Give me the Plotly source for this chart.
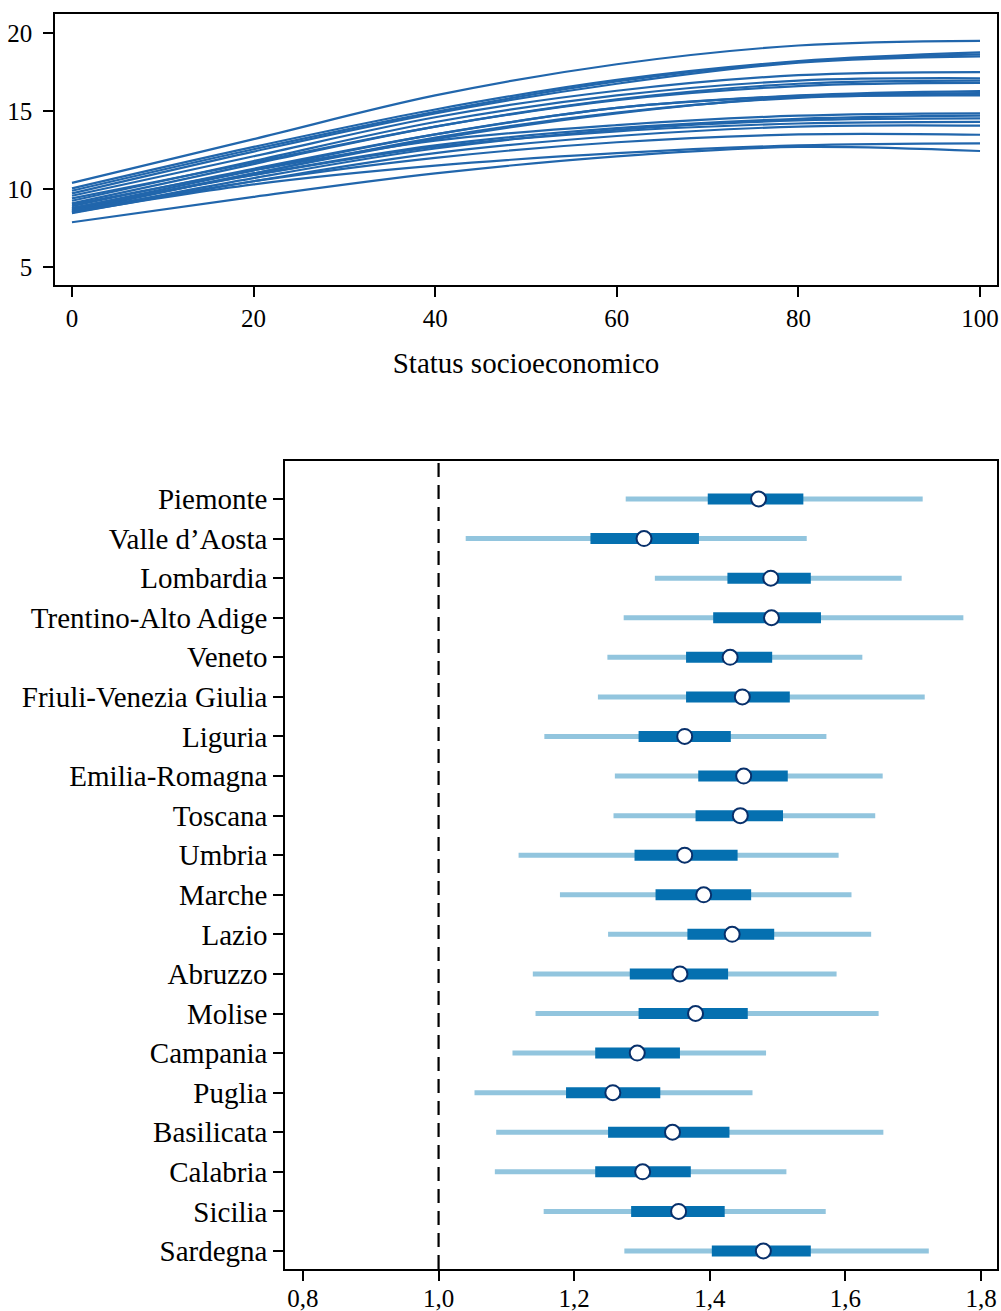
import plotly.graph_objects as go

# ---------- Top panel data: predicted curves (values read at SES = 0,20,...,100) ----------
ses_x = [0, 20, 40, 60, 80, 100]
curves = [
    [10.40, 13.20, 16.00, 18.00, 19.20, 19.50],
    [10.04, 12.70, 15.10, 17.00, 18.20, 18.76],
    [9.89, 12.55, 14.95, 16.90, 18.15, 18.63],
    [9.72, 12.40, 14.85, 16.75, 18.10, 18.50],
    [9.57, 12.10, 14.60, 16.30, 17.30, 17.50],
    [9.25, 11.80, 14.30, 16.00, 16.95, 17.10],
    [9.08, 11.60, 14.00, 15.75, 16.75, 16.95],
    [9.40, 11.70, 14.00, 15.70, 16.60, 16.80],
    [8.76, 11.20, 13.50, 15.20, 16.00, 16.28],
    [8.90, 11.30, 13.50, 15.20, 15.95, 16.15],
    [8.65, 11.00, 13.30, 14.90, 15.85, 16.00],
    [8.55, 11.00, 13.20, 14.85, 15.90, 16.10],
    [9.00, 11.20, 13.10, 14.10, 14.70, 14.85],
    [8.70, 10.90, 12.80, 13.90, 14.50, 14.70],
    [8.50, 10.70, 12.60, 13.80, 14.40, 14.53],
    [8.80, 10.90, 12.70, 13.70, 14.20, 14.31],
    [8.45, 10.50, 12.30, 13.40, 14.00, 14.06],
    [8.60, 10.50, 12.00, 13.00, 13.50, 13.48],
    [8.50, 10.30, 11.50, 12.30, 12.80, 12.93],
    [7.87, 9.50, 11.00, 12.10, 12.70, 12.44],
]
top_xticks = [0, 20, 40, 60, 80, 100]
top_yticks = [5, 10, 15, 20]

# ---------- Bottom panel data: regional estimates ----------
regions = ["Piemonte", "Valle d\u2019Aosta", "Lombardia", "Trentino-Alto Adige", "Veneto",
           "Friuli-Venezia Giulia", "Liguria", "Emilia-Romagna", "Toscana", "Umbria",
           "Marche", "Lazio", "Abruzzo", "Molise", "Campania", "Puglia", "Basilicata",
           "Calabria", "Sicilia", "Sardegna"]
point = [1.472, 1.303, 1.490, 1.491, 1.430, 1.448, 1.363, 1.450, 1.445, 1.363,
         1.391, 1.433, 1.356, 1.379, 1.293, 1.257, 1.345, 1.301, 1.354, 1.479]
lo50 = [1.397, 1.224, 1.426, 1.405, 1.365, 1.365, 1.295, 1.383, 1.379, 1.289,
        1.320, 1.367, 1.282, 1.295, 1.231, 1.188, 1.250, 1.231, 1.284, 1.403]
hi50 = [1.538, 1.384, 1.549, 1.564, 1.492, 1.518, 1.431, 1.515, 1.508, 1.441,
        1.461, 1.495, 1.427, 1.456, 1.356, 1.327, 1.429, 1.372, 1.422, 1.549]
lo95 = [1.276, 1.040, 1.319, 1.273, 1.249, 1.235, 1.156, 1.260, 1.258, 1.118,
        1.179, 1.250, 1.139, 1.143, 1.109, 1.053, 1.085, 1.083, 1.155, 1.274]
hi95 = [1.714, 1.543, 1.683, 1.774, 1.625, 1.717, 1.572, 1.655, 1.644, 1.590,
        1.609, 1.638, 1.587, 1.649, 1.483, 1.463, 1.656, 1.513, 1.571, 1.723]
bot_xticks = [0.8, 1.0, 1.2, 1.4, 1.6, 1.8]
bot_xticktext = ["0,8", "1,0", "1,2", "1,4", "1,6", "1,8"]
ref_value = 1.0

FONT = "Liberation Serif"
W, H = 1001, 1311

fig = go.Figure()

# top curves
for c in curves:
    fig.add_trace(go.Scatter(x=ses_x, y=c, mode="lines", line=dict(color="#2166ac", width=2.2, shape="spline", smoothing=1.0),
                             xaxis="x", yaxis="y", showlegend=False, hoverinfo="skip"))

# bottom intervals
ypos = list(range(len(regions)))
def seg(lo, hi):
    xs, ys = [], []
    for i, (a, b) in enumerate(zip(lo, hi)):
        xs += [a, b, None]
        ys += [i, i, None]
    return xs, ys

xs, ys = seg(lo95, hi95)
fig.add_trace(go.Scatter(x=xs, y=ys, mode="lines", line=dict(color="#92c5de", width=5),
                         xaxis="x2", yaxis="y2", showlegend=False, hoverinfo="skip"))
xs, ys = seg(lo50, hi50)
fig.add_trace(go.Scatter(x=xs, y=ys, mode="lines", line=dict(color="#0570b0", width=11),
                         xaxis="x2", yaxis="y2", showlegend=False, hoverinfo="skip"))
fig.add_trace(go.Scatter(x=point, y=ypos, mode="markers",
                         marker=dict(color="white", size=15, line=dict(color="#08306b", width=2)),
                         xaxis="x2", yaxis="y2", showlegend=False))

# dashed reference line
fig.add_shape(type="line", xref="x2", yref="y2 domain", x0=ref_value, x1=ref_value, y0=0, y1=1,
              line=dict(color="black", width=2.2, dash="14px,8px"), layer="below")

axis_common = dict(showline=True, linecolor="black", linewidth=1.5, mirror=True, ticks="outside",
                   ticklen=10, tickwidth=1.5, tickcolor="black", showgrid=False, zeroline=False,
                   automargin=False, tickfont=dict(family=FONT, size=25, color="black"))

fig.update_layout(
    width=W, height=H, margin=dict(l=0, r=0, t=0, b=0),
    paper_bgcolor="white", plot_bgcolor="white", separators=",.",
    font=dict(family=FONT, color="black"),
    xaxis=dict(domain=[55 / W, 997 / W], range=[-1.87, 101.87], tickmode="array", tickvals=top_xticks, anchor="y",
               title=dict(text="Status socioeconomico", font=dict(family=FONT, size=29), standoff=22),
               **axis_common),
    yaxis=dict(domain=[1 - 285 / H, 1 - 14 / H], range=[3.85, 21.22], tickmode="array", tickvals=top_yticks, anchor="x",
               ticklabelstandoff=6, **axis_common),
    xaxis2=dict(domain=[285 / W, 997 / W], range=[0.7735, 1.8236], tickmode="array", tickvals=bot_xticks,
                ticktext=bot_xticktext, ticklabelstandoff=-4, anchor="y2", **axis_common),
    yaxis2=dict(domain=[1 - 1269 / H, 1 - 461 / H], range=[19.455, -0.96], tickmode="array", tickvals=ypos,
                ticktext=regions, anchor="x2",
                **{**axis_common, "tickfont": dict(family=FONT, size=29, color="black")}),
)

fig.write_html("out.html")
